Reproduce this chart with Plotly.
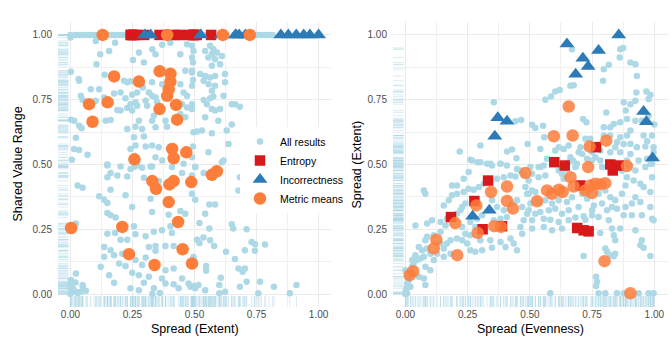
import plotly.graph_objects as go

FONT = "Liberation Sans, Arial, sans-serif"
LIGHT = "#add8e6"
RUG = "rgba(173,216,230,0.45)"
RED = "#d7191c"
BLUE = "#2c7bb6"
ORANGE = "#fd7d3b"

tick_vals = [0, 0.25, 0.5, 0.75, 1.0]
tick_text = ["0.00", "0.25", "0.50", "0.75", "1.00"]
minor_vals = [0.125, 0.375, 0.625, 0.875]

# ---- All results, left panel: (Spread (Extent), Shared Value Range)
left_results = [
    # full shared range
    (0.0, 1.0), (0.02, 1.0), (0.035, 1.0), (0.05, 1.0), (0.065, 1.0), (0.08, 1.0),
    (0.095, 1.0), (0.11, 1.0), (0.15, 1.0), (0.165, 1.0), (0.18, 1.0), (0.195, 1.0),
    (0.21, 1.0), (0.25, 1.0), (0.3, 1.0), (0.35, 1.0), (0.42, 1.0), (0.45, 1.0),
    (0.5, 1.0), (0.53, 1.0), (0.55, 1.0), (0.6, 1.0), (0.63, 1.0), (0.66, 1.0),
    (0.68, 1.0), (0.7, 1.0), (0.74, 1.0), (0.755, 1.0), (0.77, 1.0), (0.785, 1.0),
    (0.8, 1.0), (0.815, 1.0), (0.0, 0.99),
    # upper left
    (0.102, 0.977), (0.18, 0.97), (0.156, 0.938), (0.12, 0.926), (0.276, 0.932),
    (0.33, 0.945), (0.343, 0.926), (0.296, 0.894), (0.252, 0.903), (0.105, 0.887),
    (0.37, 0.962), (0.403, 0.97), (0.47, 0.964), (0.443, 0.926), (0.49, 0.913),
    (0.002, 0.858), (0.033, 0.83), (0.035, 0.823), (0.138, 0.846), (0.216, 0.823),
    (0.229, 0.817), (0.242, 0.821), (0.289, 0.81), (0.329, 0.817), (0.316, 0.778),
    (0.292, 0.797), (0.269, 0.778), (0.249, 0.769), (0.222, 0.756), (0.202, 0.778),
    (0.176, 0.774), (0.136, 0.759), (0.082, 0.79), (0.116, 0.79), (0.042, 0.765),
    (0.049, 0.75), (0.102, 0.746), (0.303, 0.746), (0.329, 0.765), (0.343, 0.759),
    (0.349, 0.74), (0.37, 0.81), (0.463, 0.862), (0.49, 0.855), (0.443, 0.81),
    (0.456, 0.778), (0.49, 0.804), (0.47, 0.765), (0.309, 0.727), (0.269, 0.727),
    (0.249, 0.708), (0.229, 0.718), (0.202, 0.708), (0.189, 0.71), (0.262, 0.74),
    (0.242, 0.733), (0.45, 0.733), (0.47, 0.72), (0.49, 0.714), (0.443, 0.695),
    (0.463, 0.682), (0.336, 0.688), (0.329, 0.669), (0.383, 0.669), (0.389, 0.646),
    (0.343, 0.644), (0.276, 0.669), (0.262, 0.646), (0.289, 0.637), (0.002, 0.673),
    (0.015, 0.669), (0.035, 0.65), (0.045, 0.64), (0.142, 0.669), (0.162, 0.672),
    (0.229, 0.637), (0.256, 0.605), (0.296, 0.608), (0.262, 0.573), (0.242, 0.56),
    (0.303, 0.569), (0.329, 0.573), (0.356, 0.567), (0.343, 0.528), (0.323, 0.492),
    (0.256, 0.49), (0.202, 0.492), (0.149, 0.5), (0.022, 0.603), (0.015, 0.56),
    (0.035, 0.556), (0.006, 0.518), (0.069, 0.538), (0.456, 0.503), (0.49, 0.528),
    (0.409, 0.49), (0.37, 0.515),
    # upper right
    (0.49, 0.958), (0.496, 0.938), (0.494, 0.894), (0.543, 0.938), (0.563, 0.958),
    (0.576, 0.945), (0.57, 0.926), (0.59, 0.932), (0.556, 0.913), (0.583, 0.906),
    (0.61, 0.919), (0.57, 0.881), (0.603, 0.887), (0.49, 0.862), (0.523, 0.849),
    (0.543, 0.842), (0.563, 0.836), (0.583, 0.842), (0.623, 0.849), (0.494, 0.826),
    (0.537, 0.823), (0.557, 0.81), (0.583, 0.804), (0.623, 0.817), (0.57, 0.785),
    (0.617, 0.765), (0.537, 0.749), (0.563, 0.756), (0.576, 0.762), (0.49, 0.733),
    (0.55, 0.733), (0.57, 0.714), (0.583, 0.708), (0.603, 0.714), (0.543, 0.682),
    (0.596, 0.669), (0.65, 0.733), (0.664, 0.733), (0.683, 0.723), (0.63, 0.631),
    (0.65, 0.654), (0.496, 0.624), (0.51, 0.627), (0.53, 0.631), (0.57, 0.621),
    (0.494, 0.569), (0.637, 0.579), (0.556, 0.547), (0.617, 0.515), (0.503, 0.49),
    # lower left
    (0.149, 0.496), (0.269, 0.496), (0.289, 0.487), (0.329, 0.492), (0.45, 0.467),
    (0.162, 0.467), (0.149, 0.451), (0.189, 0.458), (0.229, 0.454), (0.242, 0.483),
    (0.296, 0.449), (0.356, 0.436), (0.49, 0.458), (0.029, 0.419), (0.049, 0.41),
    (0.162, 0.403), (0.222, 0.381), (0.116, 0.377), (0.136, 0.364), (0.149, 0.351),
    (0.323, 0.368), (0.249, 0.336), (0.329, 0.317), (0.443, 0.321), (0.149, 0.313),
    (0.162, 0.304), (0.182, 0.295), (0.396, 0.306), (0.463, 0.31), (0.022, 0.272),
    (0.256, 0.262), (0.403, 0.262), (0.149, 0.233), (0.18, 0.236), (0.202, 0.21),
    (0.229, 0.21), (0.262, 0.231), (0.303, 0.223), (0.336, 0.24), (0.369, 0.246),
    (0.409, 0.236), (0.316, 0.182), (0.343, 0.185), (0.383, 0.185), (0.416, 0.185),
    (0.343, 0.167), (0.136, 0.182), (0.162, 0.169), (0.176, 0.15), (0.136, 0.144),
    (0.196, 0.118), (0.222, 0.108), (0.262, 0.131), (0.303, 0.141), (0.289, 0.112),
    (0.209, 0.156), (0.122, 0.105), (0.156, 0.073), (0.176, 0.044), (0.249, 0.082),
    (0.276, 0.073), (0.316, 0.067), (0.383, 0.092), (0.416, 0.099), (0.45, 0.06),
    (0.476, 0.041), (0.49, 0.028), (0.369, 0.06), (0.336, 0.022), (0.296, 0.044),
    (0.276, 0.015), (0.242, 0.022), (0.022, 0.079), (0.002, 0.054), (0.049, 0.035),
    (0.022, 0.009), (0.042, 0.009), (0.062, 0.013), (0.002, 0.022), (0.383, 0.041),
    (0.416, 0.038), (0.436, 0.022), (0.0, 0.0), (0.01, 0.02), (0.03, 0.004),
    (0.05, 0.028), (0.02, 0.045), (0.0, 0.035), (0.33, 0.0), (0.36, 0.004),
    # lower right
    (0.61, 0.509), (0.683, 0.451), (0.699, 0.455), (0.677, 0.4), (0.503, 0.364),
    (0.56, 0.346), (0.583, 0.346), (0.543, 0.31), (0.52, 0.274), (0.56, 0.253),
    (0.65, 0.269), (0.656, 0.253), (0.71, 0.25), (0.51, 0.21), (0.536, 0.218),
    (0.52, 0.197), (0.563, 0.208), (0.579, 0.185), (0.73, 0.201), (0.744, 0.192),
    (0.784, 0.191), (0.627, 0.163), (0.663, 0.135), (0.703, 0.169), (0.743, 0.167),
    (0.547, 0.108), (0.547, 0.09), (0.677, 0.099), (0.703, 0.099), (0.694, 0.086),
    (0.606, 0.063), (0.499, 0.031), (0.516, 0.035), (0.543, 0.015), (0.6, 0.035),
    (0.623, 0.009), (0.683, 0.028), (0.71, 0.047), (0.764, 0.047), (0.82, 0.028),
    (0.911, 0.035), (0.757, 0.003), (0.884, 0.003), (0.6, 0.003), (0.537, 0.467),
    (0.503, 0.49), (0.49, 0.387), (0.496, 0.144), (0.483, 0.028), (0.503, 0.022),
]

# ---- All results, right panel: (Spread (Evenness), Spread (Extent))
right_results = [
    # upper half
    (0.355, 0.74), (0.301, 0.573), (0.218, 0.55), (0.261, 0.518), (0.268, 0.515),
    (0.29, 0.509), (0.328, 0.503), (0.348, 0.496), (0.382, 0.503), (0.408, 0.55),
    (0.428, 0.558), (0.446, 0.524), (0.465, 0.672), (0.442, 0.667), (0.491, 0.579),
    (0.509, 0.653), (0.522, 0.641), (0.553, 0.65), (0.542, 0.56), (0.558, 0.605),
    (0.569, 0.522), (0.602, 0.554), (0.616, 0.567), (0.636, 0.56), (0.656, 0.573),
    (0.663, 0.528), (0.673, 0.515), (0.696, 0.547), (0.714, 0.676), (0.727, 0.663),
    (0.723, 0.599), (0.743, 0.599), (0.703, 0.567), (0.71, 0.541), (0.73, 0.522),
    (0.75, 0.547), (0.763, 0.528), (0.783, 0.515), (0.79, 0.49), (0.562, 0.75),
    (0.585, 0.762), (0.602, 0.782), (0.62, 0.788), (0.663, 0.804), (0.676, 0.806),
    (0.669, 0.945), (0.797, 0.868), (0.817, 0.885), (0.794, 0.823), (0.863, 0.945),
    (0.875, 0.95), (0.861, 0.913), (0.904, 0.894), (0.924, 0.887), (0.93, 0.842),
    (0.877, 0.74), (0.904, 0.733), (0.924, 0.746), (0.928, 0.778), (0.968, 0.782),
    (0.977, 0.753), (0.984, 0.769), (0.885, 0.708), (0.89, 0.676), (0.924, 0.669),
    (0.95, 0.669), (0.977, 0.688), (1.0, 0.654), (0.991, 0.612), (0.971, 0.59),
    (0.93, 0.567), (0.89, 0.612), (0.863, 0.605), (0.85, 0.586), (0.823, 0.644),
    (0.797, 0.644), (0.807, 0.701), (0.837, 0.656), (0.863, 0.663), (0.904, 0.631),
    (0.877, 0.579), (0.904, 0.579), (0.957, 0.612), (0.964, 0.569), (0.997, 0.567),
    (0.997, 0.547), (0.971, 0.522), (0.991, 0.503), (0.823, 0.547), (0.863, 0.547),
    (0.904, 0.541), (0.937, 0.515), (0.783, 0.554), (0.843, 0.567), (0.89, 0.515),
    (0.797, 0.612), (0.823, 0.612), (0.75, 0.515), (0.689, 0.503), (0.629, 0.49),
    (0.542, 0.49), (0.502, 0.49),
    # lower left
    (0.0, 0.009), (0.004, 0.022), (0.007, 0.041), (0.013, 0.054), (0.009, 0.067),
    (0.02, 0.079), (0.027, 0.105), (0.033, 0.118), (0.047, 0.131), (0.06, 0.137),
    (0.074, 0.144), (0.04, 0.15), (0.027, 0.131), (0.067, 0.169), (0.087, 0.176),
    (0.054, 0.182), (0.1, 0.156), (0.114, 0.131), (0.08, 0.105), (0.074, 0.06),
    (0.127, 0.156), (0.154, 0.176), (0.141, 0.195), (0.167, 0.195), (0.181, 0.208),
    (0.207, 0.214), (0.228, 0.208), (0.154, 0.144), (0.181, 0.156), (0.261, 0.169),
    (0.281, 0.163), (0.308, 0.169), (0.114, 0.227), (0.141, 0.24), (0.161, 0.265),
    (0.087, 0.221), (0.08, 0.208), (0.04, 0.265), (0.087, 0.272), (0.107, 0.285),
    (0.141, 0.278), (0.167, 0.291), (0.187, 0.304), (0.207, 0.31), (0.221, 0.323),
    (0.228, 0.336), (0.241, 0.349), (0.154, 0.342), (0.174, 0.362), (0.187, 0.381),
    (0.207, 0.387), (0.234, 0.394), (0.254, 0.406), (0.274, 0.403), (0.295, 0.413),
    (0.315, 0.426), (0.341, 0.438), (0.368, 0.445), (0.395, 0.451), (0.422, 0.458),
    (0.442, 0.454), (0.462, 0.477), (0.475, 0.464), (0.448, 0.483), (0.408, 0.496),
    (0.382, 0.503), (0.341, 0.503), (0.301, 0.509), (0.254, 0.471), (0.234, 0.445),
    (0.207, 0.419), (0.187, 0.419), (0.08, 0.387), (0.074, 0.4), (0.261, 0.278),
    (0.281, 0.259), (0.241, 0.233), (0.261, 0.227), (0.341, 0.208), (0.348, 0.179),
    (0.382, 0.201), (0.402, 0.182), (0.422, 0.214), (0.435, 0.195), (0.448, 0.169),
    (0.469, 0.233), (0.462, 0.259), (0.475, 0.285), (0.489, 0.31), (0.469, 0.336),
    (0.448, 0.362), (0.428, 0.349), (0.408, 0.297), (0.382, 0.291), (0.355, 0.285),
    (0.308, 0.304), (0.288, 0.291), (0.348, 0.362), (0.368, 0.336), (0.395, 0.323),
    (0.489, 0.387), (0.482, 0.413), (0.495, 0.438), (0.08, 0.035), (0.007, 0.003),
    (0.02, 0.028), (0.054, 0.067), (0.1, 0.092), (0.0, 0.092), (0.301, 0.208),
    (0.228, 0.259), (0.248, 0.195), (0.0, 0.0),
    # lower right
    (0.535, 0.49), (0.556, 0.496), (0.656, 0.509), (0.683, 0.49), (0.535, 0.451),
    (0.562, 0.458), (0.616, 0.477), (0.629, 0.464), (0.636, 0.445), (0.509, 0.4),
    (0.495, 0.387), (0.522, 0.394), (0.502, 0.349), (0.535, 0.355), (0.562, 0.362),
    (0.616, 0.362), (0.649, 0.355), (0.669, 0.374), (0.71, 0.387), (0.73, 0.368),
    (0.757, 0.342), (0.776, 0.387), (0.495, 0.323), (0.522, 0.31), (0.542, 0.317),
    (0.576, 0.323), (0.509, 0.285), (0.556, 0.291), (0.582, 0.287), (0.616, 0.278),
    (0.656, 0.285), (0.683, 0.295), (0.716, 0.3), (0.723, 0.287), (0.75, 0.304),
    (0.509, 0.253), (0.556, 0.259), (0.589, 0.246), (0.629, 0.253), (0.783, 0.236),
    (0.803, 0.176), (0.81, 0.163), (0.823, 0.15), (0.837, 0.146), (0.843, 0.156),
    (0.716, 0.147), (0.766, 0.067), (0.77, 0.047), (0.766, 0.031), (0.582, 0.003),
    (0.776, 0.003), (0.803, 0.003), (0.85, 0.003), (0.877, 0.003), (0.937, 0.003),
    (0.977, 0.003), (0.997, 0.003), (0.83, 0.253), (0.863, 0.253), (0.837, 0.227),
    (0.843, 0.208), (0.924, 0.246), (0.944, 0.188), (0.957, 0.179), (0.984, 0.147),
    (0.87, 0.477), (0.89, 0.451), (0.917, 0.438), (0.944, 0.426), (0.957, 0.413),
    (0.984, 0.394), (0.924, 0.374), (0.884, 0.336), (0.91, 0.349), (0.944, 0.355),
    (0.984, 0.336), (0.991, 0.291), (0.997, 0.285), (0.877, 0.304), (0.91, 0.304),
    (0.95, 0.304), (0.83, 0.336), (0.843, 0.362), (0.85, 0.329), (0.87, 0.387),
    (0.884, 0.419), (0.897, 0.496), (0.964, 0.49), (0.984, 0.503), (0.991, 0.451),
    (0.924, 0.477), (0.803, 0.4), (0.823, 0.374), (0.79, 0.349), (0.75, 0.323),
    (0.81, 0.323), (0.776, 0.297), (0.817, 0.285), (0.656, 0.323), (0.629, 0.31),
    (0.602, 0.329), (0.696, 0.336), (0.589, 0.349), (0.95, 0.208), (0.643, 0.483),
    (0.509, 0.464),
]

# ---- Entropy metrics
entropy_evenness = [0.598, 0.64, 0.766, 0.823, 0.857, 0.833, 0.703, 0.69, 0.716,
                    0.736, 0.332, 0.277, 0.183, 0.31, 0.388]
entropy_extent = [0.509, 0.496, 0.567, 0.5, 0.496, 0.477, 0.419, 0.255, 0.246,
                  0.242, 0.438, 0.359, 0.297, 0.25, 0.262]
entropy_range = [1.0, 1.0, 1.0, 1.0, 1.0, 1.0, 1.0, 1.0, 1.0, 1.0, 1.0, 1.0, 1.0,
                 1.0, 1.0]

# ---- Incorrectness metrics
incorrect_evenness = [0.857, 0.649, 0.776, 0.713, 0.734, 0.684, 0.371, 0.408,
                      0.359, 0.957, 0.968, 0.993, 0.27, 0.337]
incorrect_extent = [1.0, 0.965, 0.94, 0.91, 0.878, 0.848, 0.68, 0.667, 0.609,
                    0.705, 0.665, 0.525, 0.3, 0.323]
incorrect_range = [1.0, 1.0, 1.0, 1.0, 1.0, 1.0, 1.0, 1.0, 1.0, 1.0, 1.0, 1.0,
                   1.0, 1.0]

# ---- Metric means
means_left = [
    (0.13, 1.0), (0.39, 1.0), (0.614, 1.0), (0.723, 1.0),
    (0.176, 0.84), (0.276, 0.82), (0.36, 0.86), (0.403, 0.85), (0.403, 0.82),
    (0.396, 0.79), (0.39, 0.765), (0.075, 0.733), (0.15, 0.74), (0.089, 0.665),
    (0.359, 0.714), (0.426, 0.73), (0.43, 0.673), (0.41, 0.56), (0.416, 0.524),
    (0.467, 0.547), (0.258, 0.52), (0.33, 0.436), (0.345, 0.406), (0.399, 0.423),
    (0.416, 0.436), (0.487, 0.432), (0.57, 0.46), (0.59, 0.474), (0.396, 0.355),
    (0.434, 0.278), (0.003, 0.255), (0.209, 0.259), (0.452, 0.173), (0.236, 0.154),
    (0.339, 0.112), (0.49, 0.118),
]
means_right = [
    (0.656, 0.724), (0.596, 0.609), (0.672, 0.612), (0.74, 0.569), (0.807, 0.592),
    (0.734, 0.49), (0.89, 0.494), (0.482, 0.467), (0.663, 0.451), (0.569, 0.4),
    (0.589, 0.387), (0.616, 0.403), (0.632, 0.394), (0.676, 0.415), (0.723, 0.4),
    (0.743, 0.419), (0.763, 0.426), (0.783, 0.423), (0.803, 0.428), (0.75, 0.39),
    (0.529, 0.358), (0.8, 0.127), (0.904, 0.003), (0.408, 0.415), (0.344, 0.394),
    (0.408, 0.359), (0.432, 0.33), (0.285, 0.342), (0.2, 0.274), (0.29, 0.236),
    (0.357, 0.262), (0.384, 0.259), (0.124, 0.21), (0.114, 0.176), (0.208, 0.15),
    (0.031, 0.088), (0.017, 0.073),
]

LEFT_X_RANGE = [-0.05, 1.05]
RIGHT_X_RANGE = [-0.05, 1.055]
Y_RANGE = [-0.05, 1.05]


def unzip(pairs):
    return [p[0] for p in pairs], [p[1] for p in pairs]


def rug_traces(xs, ys, xr, yr, xa, ya):
    """Marginal rug ticks hugging the left and bottom panel edges."""
    x_edge = xr[0] + 0.015 * (xr[1] - xr[0])
    y_edge = yr[0] + 0.016 * (yr[1] - yr[0])
    return [
        go.Scatter(x=xs, y=[y_edge] * len(xs), mode="markers", xaxis=xa, yaxis=ya,
                   showlegend=False, hoverinfo="skip",
                   marker=dict(symbol="line-ns", size=9, line=dict(width=1, color=RUG))),
        go.Scatter(x=[x_edge] * len(ys), y=ys, mode="markers", xaxis=xa, yaxis=ya,
                   showlegend=False, hoverinfo="skip",
                   marker=dict(symbol="line-ew", size=9, line=dict(width=1, color=RUG))),
    ]


fig = go.Figure()

panels = [
    dict(results=left_results, ent=(entropy_extent, entropy_range),
         inc=(incorrect_extent, incorrect_range), means=means_left,
         xr=LEFT_X_RANGE, xa="x", ya="y", legend=True, mean_opacity=1.0),
    dict(results=right_results, ent=(entropy_evenness, entropy_extent),
         inc=(incorrect_evenness, incorrect_extent), means=means_right,
         xr=RIGHT_X_RANGE, xa="x2", ya="y2", legend=False, mean_opacity=0.85),
]

for p in panels:
    rx, ry = unzip(p["results"])
    for t in rug_traces(rx, ry, p["xr"], Y_RANGE, p["xa"], p["ya"]):
        fig.add_trace(t)
    fig.add_trace(go.Scatter(
        x=rx, y=ry, mode="markers", name="All results", xaxis=p["xa"], yaxis=p["ya"],
        showlegend=p["legend"], hoverinfo="skip",
        marker=dict(color=LIGHT, size=6.5, line=dict(width=0))))
    fig.add_trace(go.Scatter(
        x=p["ent"][0], y=p["ent"][1], mode="markers", name="Entropy",
        xaxis=p["xa"], yaxis=p["ya"], showlegend=p["legend"],
        marker=dict(color=RED, symbol="square", size=10.5, line=dict(width=0))))
    fig.add_trace(go.Scatter(
        x=p["inc"][0], y=p["inc"][1], mode="markers", name="Incorrectness",
        xaxis=p["xa"], yaxis=p["ya"], showlegend=p["legend"],
        marker=dict(color=BLUE, symbol="triangle-up", size=13, line=dict(width=0))))
    mx, my = unzip(p["means"])
    fig.add_trace(go.Scatter(
        x=mx, y=my, mode="markers", name="Metric means",
        xaxis=p["xa"], yaxis=p["ya"], showlegend=p["legend"],
        marker=dict(color=ORANGE, size=12.5, opacity=p["mean_opacity"], line=dict(width=0))))

W, H = 671, 341
axis_common = dict(
    tickvals=tick_vals, ticktext=tick_text, showgrid=True, gridcolor="#ebebeb",
    gridwidth=1.1, zeroline=False, showline=False, ticks="",
    tickfont=dict(family=FONT, size=10, color="#4d4d4d"),
    minor=dict(tickvals=minor_vals, showgrid=True, gridcolor="#f0f0f0", gridwidth=0.6),
)

title_font = dict(family=FONT, size=12.5, color="black")


def axis_title(text, px, py, vertical=False):
    return dict(text=text, x=px / W, y=1 - py / H, xref="paper", yref="paper",
                xanchor="center", yanchor="middle", showarrow=False,
                textangle=-90 if vertical else 0, font=title_font)


y_dom = [1 - 307 / H, 1 - 22 / H]
fig.update_layout(
    width=W, height=H, margin=dict(l=0, r=0, t=0, b=0),
    paper_bgcolor="white", plot_bgcolor="white",
    font=dict(family=FONT, color="black"),
    xaxis=dict(domain=[58 / W, 331 / W], range=LEFT_X_RANGE, anchor="y", **axis_common),
    yaxis=dict(domain=y_dom, range=Y_RANGE, anchor="x", ticklabelstandoff=5, **axis_common),
    xaxis2=dict(domain=[393 / W, 668 / W], range=RIGHT_X_RANGE, anchor="y2", **axis_common),
    yaxis2=dict(domain=y_dom, range=Y_RANGE, anchor="x2", ticklabelstandoff=5, **axis_common),
    legend=dict(x=240 / W, y=1 - 127 / H, xanchor="left", yanchor="top",
                bgcolor="white", font=dict(family=FONT, size=10.5, color="black"),
                itemsizing="trace", traceorder="normal", tracegroupgap=0),
    annotations=[
        axis_title("Shared Value Range", 17, 164.5, vertical=True),
        axis_title("Spread (Extent)", 194.5, 329),
        axis_title("Spread (Extent)", 356, 164.5, vertical=True),
        axis_title("Spread (Evenness)", 530.5, 329),
    ],
)

fig.write_html("out.html")
